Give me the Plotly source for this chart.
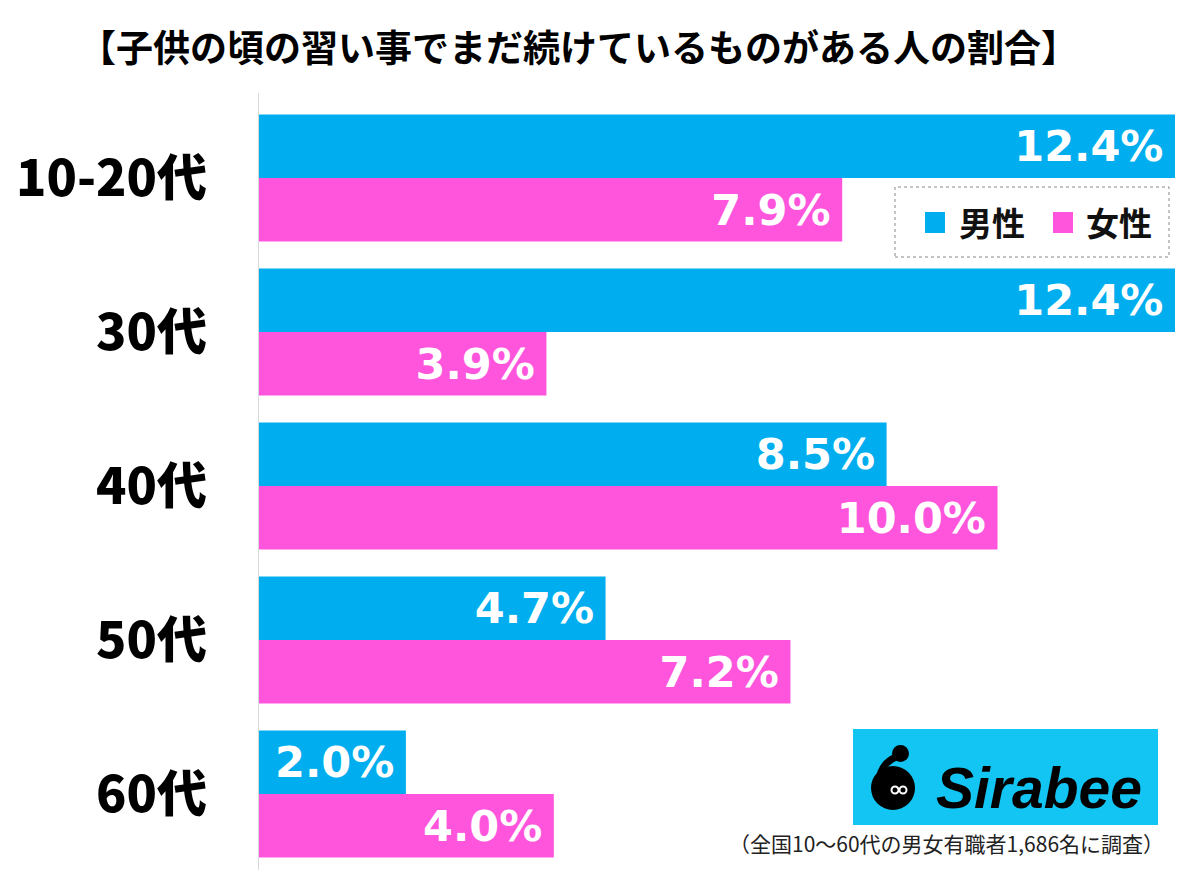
import plotly.graph_objects as go

categories = ["10-20代", "30代", "40代", "50代", "60代"]
male = [12.4, 12.4, 8.5, 4.7, 2.0]
female = [7.9, 3.9, 10.0, 7.2, 4.0]
series_names = ["男性", "女性"]
title_text = "【子供の頃の習い事でまだ続けているものがある人の割合】"
note_text = "（全国10〜60代の男女有職者1,686名に調査）"

BLUE = "#00AEEF"
PINK = "#FF55DD"
JP = "Noto Sans CJK JP"

# page offset of the plot div (body margin)
OFF = 8
W, H = 1200 - OFF, 873 - OFF
# plot area in page pixels
L, R, T, B = 258, 1175, 101, 871


def px(x):
    return (x - L) / (R - L)


def py(y):
    return (B - y) / (B - T)


fig = go.Figure()
for name, vals, col in [(series_names[0], male, BLUE), (series_names[1], female, PINK)]:
    fig.add_trace(go.Bar(
        y=categories, x=vals, name=name, orientation="h",
        marker=dict(color=col, line=dict(width=0)),
        texttemplate="%{x:.1f}%\u2009", textposition="inside",
        insidetextanchor="end", textangle=0, constraintext="none",
        insidetextfont=dict(family="DejaVu Sans", size=43, color="white", weight="bold"),
        showlegend=False,
    ))

fig.update_layout(
    width=W, height=H,
    margin=dict(l=L - OFF, r=W - (R - OFF), t=T - OFF, b=H - (B - OFF)),
    paper_bgcolor="white", plot_bgcolor="white",
    barmode="group", bargap=0.175, bargroupgap=0,
    xaxis=dict(range=[0, 12.4], visible=False, fixedrange=True),
    yaxis=dict(
        categoryorder="array", categoryarray=categories, autorange="reversed",
        showline=False, showgrid=False, ticks="outside", ticklen=40,
        tickcolor="rgba(0,0,0,0)",
        tickfont=dict(family=JP, size=50, color="black", weight=900),
    ),
)

shapes = []
# axis line
shapes.append(dict(type="line", xref="x", yref="paper", x0=0, x1=0, y0=py(870), y1=py(93),
                   line=dict(color="#d9d9d9", width=2)))
# legend box
shapes.append(dict(type="rect", xref="paper", yref="paper", x0=px(895), x1=px(1169),
                   y0=py(257), y1=py(187), line=dict(color="#888", width=1, dash="dot"),
                   fillcolor="white"))
for x0, col in [(925, BLUE), (1053, PINK)]:
    shapes.append(dict(type="rect", xref="paper", yref="paper", x0=px(x0), x1=px(x0 + 20),
                       y0=py(233), y1=py(212), line=dict(width=0), fillcolor=col))
# logo
shapes.append(dict(type="rect", xref="paper", yref="paper", x0=px(853), x1=px(1158),
                   y0=py(825), y1=py(729), line=dict(width=0), fillcolor="#12C5F2"))
shapes.append(dict(type="circle", xref="paper", yref="paper", x0=px(871), x1=px(915),
                   y0=py(810), y1=py(766), line=dict(width=0), fillcolor="black"))
shapes.append(dict(type="circle", xref="paper", yref="paper", x0=px(892), x1=px(909),
                   y0=py(762), y1=py(745), line=dict(width=0), fillcolor="black"))
shapes.append(dict(type="path", xref="paper", yref="paper",
                   path=f"M {px(896)},{py(757)} Q {px(880)},{py(764)} {px(879)},{py(782)}",
                   line=dict(color="black", width=7)))
for cx in (895, 903):
    shapes.append(dict(type="circle", xref="paper", yref="paper", x0=px(cx - 3.5), x1=px(cx + 3.5),
                       y0=py(793.5), y1=py(786.5), line=dict(color="white", width=2),
                       fillcolor="black"))
fig.update_layout(shapes=shapes)

ann = []
ann.append(dict(text=f"<b>{title_text}</b>", xref="paper", yref="paper", x=px(578), y=py(46),
                xanchor="center", yanchor="middle",
                showarrow=False, font=dict(family=JP, size=37, color="black")))
# legend entries
for txt_x, name in [(957, series_names[0]), (1084, series_names[1])]:
    ann.append(dict(text=f"<b>{name}</b>", xref="paper", yref="paper", x=px(txt_x), y=py(222),
                    xanchor="left", yanchor="middle", showarrow=False,
                    font=dict(family=JP, size=33, color="#111")))
ann.append(dict(text="<b><i>Sirabee</i></b>", xref="paper", yref="paper", x=px(1039), y=py(788),
                xanchor="center", yanchor="middle",
                showarrow=False, font=dict(family="Liberation Sans", size=57, color="black")))
ann.append(dict(text=note_text, xref="paper", yref="paper", x=px(1166), y=py(843),
                xanchor="right", yanchor="middle", showarrow=False,
                font=dict(family=JP, size=21, color="#222")))
fig.update_layout(annotations=ann)

fig.write_html("out.html")
